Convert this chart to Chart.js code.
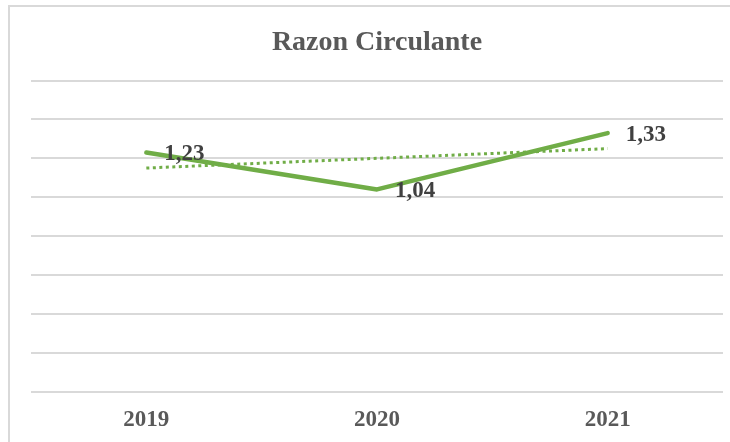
<!DOCTYPE html>
<html>
<head>
<meta charset="utf-8">
<script src="https://cdn.jsdelivr.net/npm/chart.js@4/dist/chart.umd.min.js"></script>
<style>
  html, body { margin: 0; padding: 0; background: #ffffff; }
  #wrap { position: relative; width: 730px; height: 442px; }
</style>
</head>
<body>
<div id="wrap"><canvas id="c" width="730" height="442"></canvas></div>
<script>
// ---- data ----
const categories = ['2019', '2020', '2021'];
const razonCirculante = [1.23, 1.04, 1.33];
const trendValues = [1.15, 1.20, 1.25];
const valueLabels = ['1,23', '1,04', '1,33'];
const titleText = 'Razon Circulante';

const frameBorder = {
  id: 'frameBorder',
  beforeDraw(chart) {
    const ctx = chart.ctx;
    ctx.save();
    ctx.fillStyle = '#ffffff';
    ctx.fillRect(0, 0, chart.width, chart.height);
    ctx.strokeStyle = '#d9d9d9';
    ctx.lineWidth = 2;
    ctx.strokeRect(9, 6, 900, 900);
    ctx.restore();
  }
};

const pointLabels = {
  id: 'pointLabels',
  afterDatasetsDraw(chart) {
    const ctx = chart.ctx;
    const meta = chart.getDatasetMeta(0);
    ctx.save();
    ctx.font = 'bold 23px "Liberation Serif", "Times New Roman", serif';
    ctx.fillStyle = '#404040';
    ctx.textAlign = 'left';
    ctx.textBaseline = 'middle';
    meta.data.forEach((pt, i) => {
      ctx.fillText(valueLabels[i], pt.x + 18, pt.y + 2);
    });
    ctx.restore();
  }
};

new Chart(document.getElementById('c'), {
  type: 'line',
  data: {
    labels: categories,
    datasets: [
      {
        label: 'Razon Circulante',
        data: razonCirculante,
        borderColor: '#70ad47',
        borderWidth: 4.5,
        pointRadius: 0,
        tension: 0,
        borderCapStyle: 'round',
        borderJoinStyle: 'round',
        order: 1
      },
      {
        label: 'Tendencia',
        data: trendValues,
        borderColor: '#70ad47',
        borderWidth: 3,
        borderDash: [3, 3.5],
        pointRadius: 0,
        tension: 0,
        order: 2
      }
    ]
  },
  options: {
    responsive: false,
    animation: false,
    devicePixelRatio: 1,
    layout: { padding: { left: 31, right: 7, top: 0, bottom: 0 } },
    plugins: {
      legend: { display: false },
      tooltip: { enabled: false },
      title: {
        display: true,
        text: titleText,
        color: '#595959',
        font: { family: '"Liberation Serif", "Times New Roman", serif', size: 28, weight: 'bold' },
        padding: { top: 26, bottom: 21 }
      }
    },
    scales: {
      x: {
        offset: true,
        grid: { display: false, drawTicks: false },
        border: { display: false },
        afterFit(scale) { scale.height = 50.5; },
        ticks: {
          color: '#595959',
          padding: 15,
          font: { family: '"Liberation Serif", "Times New Roman", serif', size: 23, weight: 'bold' }
        }
      },
      y: {
        min: 0,
        max: 1.6,
        ticks: { display: false, stepSize: 0.2 },
        grid: { color: '#d9d9d9', lineWidth: 2, drawTicks: false },
        border: { display: false }
      }
    }
  },
  plugins: [frameBorder, pointLabels]
});
</script>
</body>
</html>
